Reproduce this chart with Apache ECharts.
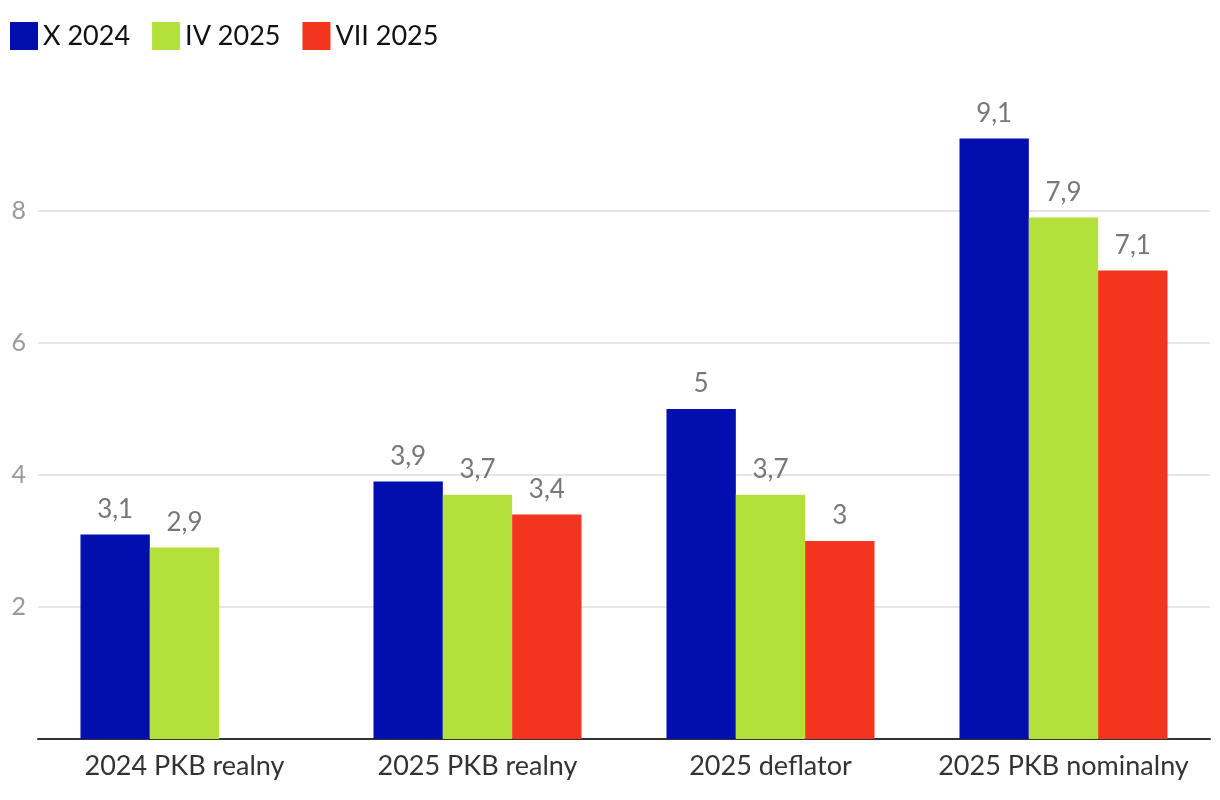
<!DOCTYPE html>
<html>
<head>
<meta charset="utf-8">
<script src="https://cdn.jsdelivr.net/npm/echarts@6/dist/echarts.min.js"></script>
<style>
html,body{margin:0;padding:0;background:#fff;}
#chart{width:1220px;height:800px;}
</style>
</head>
<body>
<div id="chart"></div>
<script>
const categories = ['2024 PKB realny', '2025 PKB realny', '2025 deflator', '2025 PKB nominalny'];
const seriesNames = ['X 2024', 'IV 2025', 'VII 2025'];
const seriesX2024 = [3.1, 3.9, 5, 9.1];
const seriesIV2025 = [2.9, 3.7, 3.7, 7.9];
const seriesVII2025 = [null, 3.4, 3, 7.1];
const colors = ['#020EAE', '#B3E03A', '#F3341F'];

const chart = echarts.init(document.getElementById('chart'));
const fmt = v => String(v).replace('.', ',');
const mk = (name, data, color) => ({
  name: name,
  type: 'bar',
  data: data,
  barGap: '0%',
  barCategoryGap: '29%',
  itemStyle: { color: color },
  label: {
    show: true,
    position: 'top',
    distance: 12,
    color: '#777777',
    fontSize: 26,
    fontFamily: 'Lato',
    formatter: p => fmt(p.value)
  }
});
chart.setOption({
  animation: false,
  textStyle: { fontFamily: 'Lato' },
  legend: {
    left: 10,
    top: 22,
    padding: 0,
    itemWidth: 28,
    itemHeight: 28,
    itemGap: 22,
    icon: 'rect',
    textStyle: { fontSize: 27, color: '#111', fontFamily: 'Lato' },
    data: seriesNames
  },
  grid: { left: 38, right: 10, top: 79, bottom: 61, containLabel: false },
  xAxis: {
    type: 'category',
    data: categories,
    axisLine: { lineStyle: { color: '#333', width: 2 } },
    axisTick: { show: false },
    axisLabel: { fontSize: 27, color: '#333', margin: 14, interval: 0, fontFamily: 'Lato' }
  },
  yAxis: {
    type: 'value',
    min: 0,
    max: 10,
    interval: 2,
    axisLine: { show: false },
    axisTick: { show: false },
    axisLabel: { fontSize: 25, color: '#999', margin: 12, showMinLabel: false, showMaxLabel: false, fontFamily: 'Lato' },
    splitLine: { showMinLine: false, showMaxLine: false, lineStyle: { color: '#e6e6e6', width: 2 } }
  },
  series: [
    mk(seriesNames[0], seriesX2024, colors[0]),
    mk(seriesNames[1], seriesIV2025, colors[1]),
    mk(seriesNames[2], seriesVII2025, colors[2])
  ]
});
</script>
</body>
</html>
